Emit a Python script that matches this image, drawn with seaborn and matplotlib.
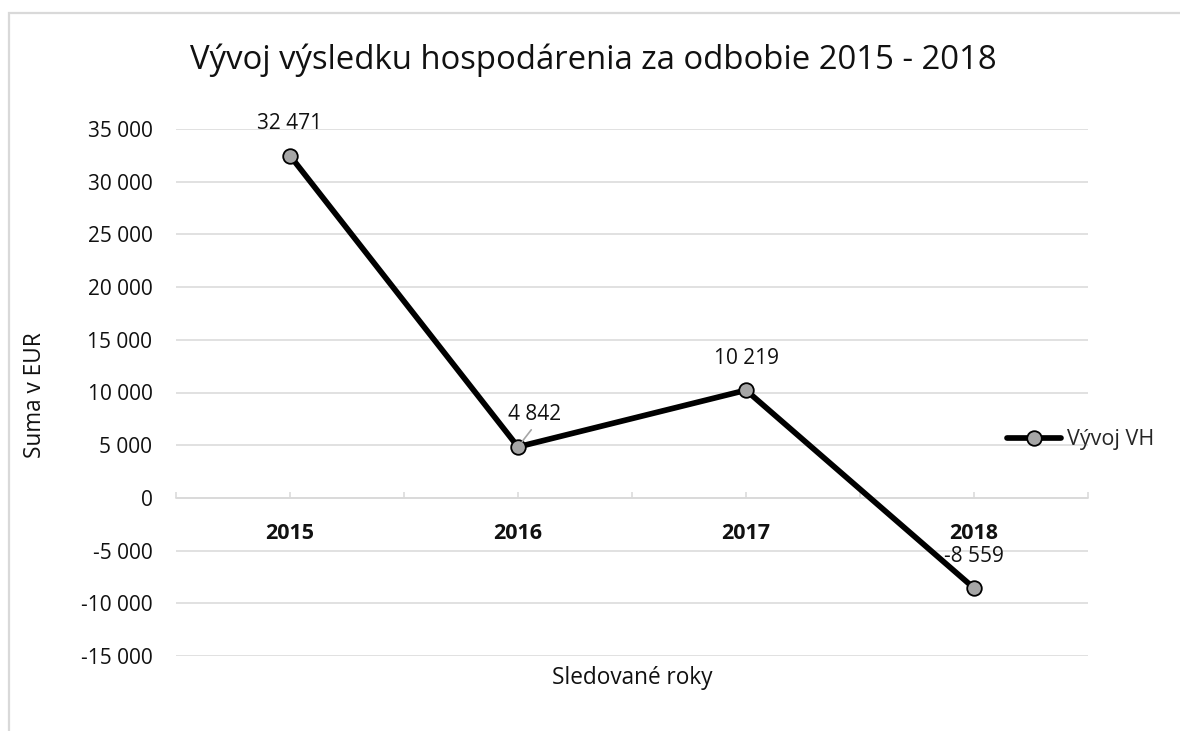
import matplotlib
matplotlib.use("Agg")
import matplotlib.pyplot as plt
import seaborn as sns
import pandas as pd
from matplotlib.patches import Rectangle
from matplotlib.ticker import FuncFormatter, MultipleLocator, FixedLocator

years = ["2015", "2016", "2017", "2018"]
values = [32471, 4842, 10219, -8559]
series_name = "Vývoj VH"
title = "Vývoj výsledku hospodárenia za odbobie 2015 - 2018"
y_label = "Suma v EUR"
x_label = "Sledované roky"

sns.set_theme(style="white")
plt.rcParams['font.family'] = ['Open Sans', 'DejaVu Sans']

W, H = 1180, 731
fig = plt.figure(figsize=(W / 100, H / 100), dpi=100)
ax = fig.add_axes([176 / W, 1 - 656 / H, 912 / W, 527 / H])

def fmt(v):
    return f"{v:,.0f}".replace(",", " ")

df = pd.DataFrame({"year": years, "value": values})
sns.lineplot(data=df, x="year", y="value", ax=ax, color="black", lw=4.1,
             marker="o", markersize=10.5, markerfacecolor="#a6a6a6",
             markeredgecolor="black", markeredgewidth=1.3, label=series_name,
             sort=False, zorder=3)

ax.set_xlim(-0.5, len(years) - 0.5)
ax.set_ylim(-15000, 35000)
ax.yaxis.set_major_locator(MultipleLocator(5000))
ax.yaxis.set_major_formatter(FuncFormatter(lambda v, p: fmt(v)))
ax.tick_params(axis="y", length=0, pad=17, labelsize=15, labelcolor="#111111")
ax.yaxis.grid(True, color="#d9d9d9", lw=1.1)
ax.set_axisbelow(True)

for s in ["left", "right", "top"]:
    ax.spines[s].set_visible(False)
ax.spines["bottom"].set_position(("data", 0))
ax.spines["bottom"].set_color("#d9d9d9")
ax.spines["bottom"].set_linewidth(1.1)
ax.set_xticks(range(len(years)))
ax.set_xticklabels(years, fontweight="bold")
ax.xaxis.set_minor_locator(FixedLocator([i - 0.5 for i in range(len(years) + 1)]))
ax.tick_params(axis="x", which="both", direction="in", length=4, width=1.1,
               color="#d9d9d9", bottom=True)
ax.tick_params(axis="x", which="major", pad=18, labelsize=15.5, labelcolor="#111111")

ax.set_xlabel(x_label, fontsize=16.3, color="#111111")
ax.xaxis.label.set_va("center")
ax.xaxis.set_label_coords(0.5, (656 - 678) / 527)
ax.set_ylabel(y_label, fontsize=16.3, color="#111111")
ax.yaxis.label.set_va("center")
ax.yaxis.set_label_coords((35 - 176) / 912, (656 - 395) / 527)

for i, v in enumerate(values):
    if years[i] == "2016":
        ax.annotate(fmt(v), xy=(i, v), xytext=(12, 23), textcoords="offset points",
                    ha="center", va="center", fontsize=15, color="#111111",
                    arrowprops=dict(arrowstyle="-", color="#a6a6a6", lw=1.2,
                                    shrinkA=1, shrinkB=5, relpos=(0.5, 0)))
    else:
        ax.annotate(fmt(v), xy=(i, v), xytext=(0, 23), textcoords="offset points",
                    ha="center", va="center", fontsize=15, color="#111111")

ax.legend(loc="center left", bbox_to_anchor=(1007 / W, 1 - 440 / H),
          bbox_transform=fig.transFigure, frameon=False, fontsize=15.5,
          handlelength=2.5, handletextpad=0.28, borderpad=0, borderaxespad=0)

fig.text(593 / W, 1 - 60 / H, title, ha="center", va="center", fontsize=23.7,
         color="#111111")

fig.patches.append(Rectangle((9 / W, -0.1), 1.2, 1.1 - 13 / H, transform=fig.transFigure,
                             fill=False, edgecolor="#d9d9d9", lw=1.6))

fig.savefig("out.png", dpi=100)
